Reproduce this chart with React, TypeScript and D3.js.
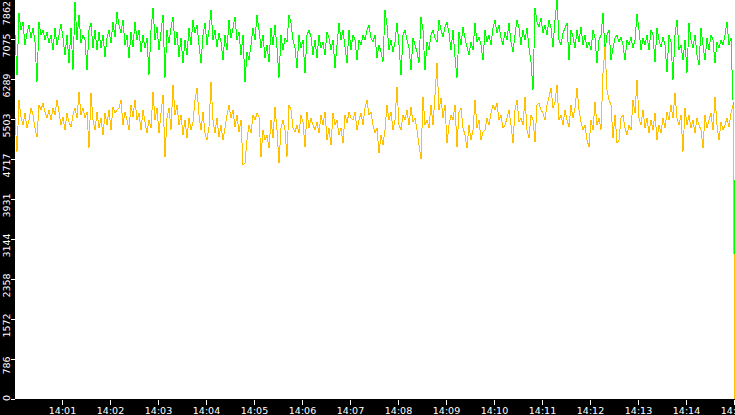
import React from "react";
import * as d3 from "d3";

const WIDTH = 735;
const HEIGHT = 415;

const startTime = new Date(2024, 0, 1, 14, 0, 1);
const endTime = new Date(2024, 0, 1, 14, 15, 1);
const sampleStepSec = 2.5;

const yTickLabels = ["0", "786", "1572", "2358", "3144", "3931", "4717", "5503", "6289", "7075", "7862"];
const xTickLabels = ["14:01", "14:02", "14:03", "14:04", "14:05", "14:06", "14:07", "14:08", "14:09", "14:10", "14:11", "14:12", "14:13", "14:14", "14:15"];

const greenSeries = [
  7154, 6368, 7586, 7252, 7410, 6958, 7193, 7351, 7095, 7292, 7016, 6230, 7410, 7154, 7252, 7056, 7213, 6997, 7154, 6859,
  7292, 6958, 7154, 7370, 7095, 6761, 7154, 6604, 7292, 6466, 7803, 7056, 7547, 6997, 7154, 7056, 6466, 7252, 7390, 6899,
  7252, 6859, 7213, 6899, 7154, 6722, 7095, 7252, 6997, 7410, 7115, 7606, 7351, 7193, 7449, 6958, 7154, 6702, 7213, 6918,
  7410, 7056, 7252, 6820, 7154, 6899, 7095, 6368, 7252, 7685, 7056, 7311, 6859, 7213, 7547, 6309, 7252, 6997, 7292, 7508,
  6958, 7213, 6722, 7095, 6604, 7056, 6761, 7292, 6958, 7449, 7193, 7351, 6958, 6604, 7154, 7390, 6958, 7252, 7645, 7056,
  7252, 6918, 7193, 7016, 6663, 7154, 6859, 7449, 7095, 7292, 7508, 7056, 7213, 6761, 7154, 6230, 6820, 6663, 6958, 7292,
  7056, 7547, 7252, 6899, 7154, 6702, 6958, 6623, 7292, 6958, 7351, 6899, 6309, 7154, 6859, 7095, 7016, 7547, 7390, 7056,
  6899, 6505, 7154, 6899, 7056, 6407, 7154, 7252, 7115, 6761, 7056, 6702, 7154, 6899, 7016, 6761, 7213, 7095, 6859, 7056,
  6505, 6958, 7390, 7056, 7252, 6918, 6604, 7252, 6859, 7154, 7056, 6663, 7056, 6958, 7154, 7056, 7252, 7351, 7095, 7016,
  7154, 6702, 6958, 6820, 6623, 7645, 7351, 6859, 7056, 6820, 7016, 7390, 6958, 6368, 7154, 7252, 7056, 6899, 6466, 7095,
  6958, 6820, 6604, 7508, 7252, 6466, 7016, 6859, 7154, 7252, 7095, 7016, 7449, 7252, 7115, 7311, 7410, 7193, 6859, 7252,
  6722, 6309, 7213, 6958, 7311, 7095, 6918, 6761, 7016, 6859, 7390, 7016, 7115, 6958, 6663, 7252, 7016, 7154, 6958, 7292,
  7449, 7193, 7351, 7095, 6958, 7213, 7056, 7390, 7016, 6820, 7154, 7449, 7292, 6958, 7252, 7056, 7292, 6899, 6623, 6073,
  7685, 7410, 7311, 7488, 7193, 7351, 7154, 7449, 7292, 6918, 7449, 7842, 7056, 6958, 7193, 7292, 7390, 6663, 7252, 7115,
  6899, 7252, 7016, 7311, 6958, 7154, 6899, 7016, 6859, 7252, 7095, 6604, 7056, 7154, 7586, 6820, 7154, 7252, 6663, 6899,
  7095, 7154, 7016, 7115, 6958, 6663, 7056, 6958, 7115, 6899, 7056, 7567, 7252, 6859, 7095, 6958, 7154, 6859, 7252, 7154,
  6623, 7292, 7056, 6918, 7115, 6958, 6427, 7154, 7016, 6270, 7154, 7449, 6859, 6958, 6663, 7056, 6407, 7390, 7056, 6899,
  7154, 6761, 6565, 7292, 6958, 6663, 7095, 6859, 7154, 7056, 6604, 7016, 6899, 7056, 6958, 7154, 7410, 6958, 7095, 5876,
  2771,
];

const yellowSeries = [
  5523, 4854, 5876, 5542, 5385, 5621, 5326, 5483, 5719, 5582, 5326, 5149, 5778, 5680, 5818, 5641, 5523, 5680, 5483, 5719,
  5582, 5876, 5641, 5385, 5542, 5287, 5621, 5444, 5346, 5582, 5719, 5523, 6034, 5582, 5719, 5523, 5641, 4933, 6014, 5483,
  5287, 5641, 5326, 5523, 5189, 5621, 5385, 5680, 5287, 5739, 5621, 5680, 5719, 5876, 5385, 5641, 5483, 5287, 5778, 5542,
  5876, 5483, 5621, 5287, 5680, 5444, 5228, 5483, 5326, 6034, 5483, 5719, 5228, 5621, 5975, 4756, 5523, 5719, 5287, 6171,
  5582, 5778, 5385, 5582, 5189, 5483, 5130, 5523, 5287, 5444, 5876, 6112, 5582, 5287, 5641, 5228, 5090, 5346, 6230, 5483,
  5228, 5523, 5149, 5385, 5090, 5326, 5582, 5778, 5523, 5680, 5346, 5582, 5248, 5483, 4599, 4638, 5090, 5385, 5228, 5582,
  5483, 5621, 5542, 4756, 5287, 5090, 5189, 4933, 5483, 5130, 5739, 5287, 4638, 5326, 5483, 5287, 4756, 5778, 5680, 5326,
  5248, 5385, 5228, 5582, 5444, 4953, 5641, 5326, 5523, 5385, 5287, 5444, 5228, 5582, 5385, 5641, 5090, 5326, 4992, 5621,
  5385, 5483, 5189, 5326, 5031, 5582, 5424, 5641, 5523, 5483, 5641, 5287, 5483, 5621, 5385, 5719, 5876, 5582, 5641, 5385,
  5228, 5326, 4835, 5189, 4992, 5287, 5778, 5483, 5641, 5287, 5483, 6132, 5385, 5287, 5582, 5483, 5680, 5385, 5739, 5444,
  5523, 5287, 4992, 4717, 5935, 5385, 5483, 5326, 5778, 5385, 5975, 6604, 5680, 5916, 5523, 5778, 5031, 5385, 5582, 5483,
  5778, 4953, 5641, 5719, 5326, 5189, 4933, 5385, 5090, 5287, 5876, 5326, 5483, 5090, 5248, 5287, 5523, 5385, 5621, 5778,
  5680, 5818, 5483, 5582, 5326, 5385, 5523, 5680, 5385, 5031, 5680, 5876, 5444, 5523, 5385, 5935, 5287, 5130, 5582, 5483,
  5051, 5778, 5818, 5680, 5621, 5483, 5778, 5935, 6112, 5719, 5837, 6171, 5483, 5582, 5385, 5680, 5483, 5346, 5778, 5523,
  5719, 6112, 5680, 5444, 5287, 5385, 5090, 4953, 5483, 5287, 5837, 5385, 5523, 5287, 6407, 6918, 6073, 5876, 5778, 5130,
  5582, 5031, 5090, 5523, 5582, 5326, 5189, 5385, 5287, 5876, 5621, 6270, 5523, 5385, 5680, 5326, 5523, 5228, 5483, 5287,
  5621, 5090, 5385, 5228, 5523, 5326, 5641, 5483, 5778, 5523, 6014, 5523, 5385, 5582, 4854, 5719, 5385, 5582, 5326, 5483,
  5228, 5523, 5385, 5287, 4933, 5582, 5326, 5483, 5621, 5287, 5935, 5385, 5090, 5444, 5287, 5385, 5523, 5346, 5621, 5778,
  0,
];

const sampleTimes = greenSeries.map((_, i) => new Date(startTime.getTime() + i * sampleStepSec * 1000));

function parseTick(label: string): Date {
  const [h, m] = label.split(":").map(Number);
  return new Date(2024, 0, 1, h, m, 0);
}

export default function App() {
  const plotLeft = 15;
  const plotRight = 735;
  const plotBottom = 399;
  const fontSize = 9.5;
  const charW = fontSize * 0.636;

  const x = d3.scaleTime().domain([startTime, endTime]).range([plotLeft, plotRight]);
  const yMax = Number(yTickLabels[yTickLabels.length - 1]);
  const y = d3.scaleLinear().domain([0, yMax]).range([plotBottom, plotBottom - 400]);

  const line = d3
    .line<number>()
    .x((_, i) => x(sampleTimes[i]))
    .y((d) => y(d));

  const font = "'DejaVu Sans', Verdana, sans-serif";

  return (
    <div style={{ position: "fixed", left: 0, top: 0 }}>
      <svg width={WIDTH} height={HEIGHT} style={{ display: "block" }}>
        <rect x={0} y={0} width={WIDTH} height={HEIGHT} fill="#000" />
        <rect x={plotLeft} y={0} width={plotRight - plotLeft} height={plotBottom} fill="#fff" />
        <defs>
          <clipPath id="plotclip">
            <rect x={plotLeft} y={0} width={plotRight - plotLeft} height={plotBottom + 1} />
          </clipPath>
        </defs>
        <g clipPath="url(#plotclip)">
          <path d={line(greenSeries) || ""} fill="none" stroke="#00ff00" strokeWidth={1} shapeRendering="crispEdges" />
          <path d={line(yellowSeries) || ""} fill="none" stroke="#ffc000" strokeWidth={1} shapeRendering="crispEdges" />
        </g>
        {yTickLabels.map((lab) => {
          const v = Number(lab);
          const ty = Math.round(y(v)) + 0.5;
          const half = (lab.length * charW) / 2;
          let center = ty + 6;
          if (center - half < 1) center = 1 + half;
          if (center + half > 401) center = 401 - half;
          return (
            <g key={lab}>
              <line x1={11} x2={plotLeft} y1={ty} y2={ty} stroke="#fff" strokeWidth={1} shapeRendering="crispEdges" />
              <text
                transform={`translate(9.5,${center}) rotate(-90)`}
                fill="#fff"
                fontFamily={font}
                fontSize={fontSize}
                textAnchor="middle"
              >
                {lab}
              </text>
            </g>
          );
        })}
        {xTickLabels.map((lab) => {
          const tx = Math.round(x(parseTick(lab))) + 0.5;
          return (
            <g key={lab}>
              <line x1={tx} x2={tx} y1={plotBottom + 1} y2={plotBottom + 6} stroke="#fff" strokeWidth={1} shapeRendering="crispEdges" />
              <text x={tx} y={414} fill="#fff" fontFamily={font} fontSize={fontSize} textAnchor="middle">
                {lab}
              </text>
            </g>
          );
        })}
      </svg>
    </div>
  );
}
